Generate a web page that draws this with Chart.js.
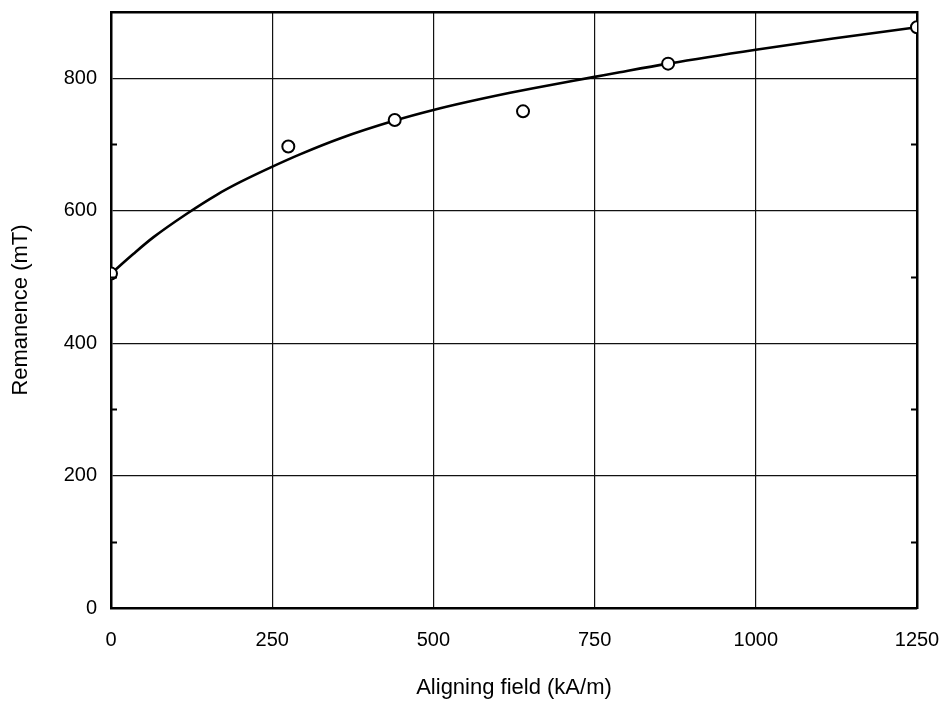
<!DOCTYPE html>
<html>
<head>
<meta charset="utf-8">
<script src="https://cdn.jsdelivr.net/npm/chart.js@4.4.0/dist/chart.umd.min.js"></script>
<style>
  html, body { margin: 0; padding: 0; background: #fff; }
  #wrap { width: 946px; height: 702px; }
</style>
</head>
<body>
<div id="wrap"><canvas id="grafica"></canvas></div>
<script>
// measured points (aligning field kA/m, remanence mT)
const measuredX = [0, 275, 440, 639, 864, 1250];
const measuredY = [505, 697, 737, 750, 822, 877];

// fitted curve
const curveX = [0, 35, 66, 117, 164, 200, 247, 293, 355, 440, 500, 552, 619, 655, 750, 789, 864, 1000, 1120, 1250];
const curveY = [505, 535, 560, 595, 624, 643, 665, 685, 709, 736, 752, 764, 778, 785, 802, 809, 822, 843, 860, 877];

const xTicks = [0, 250, 500, 750, 1000, 1250];
const yTicks = [0, 200, 400, 600, 800];
const yMinorTicks = [100, 300, 500, 700];

const fontFamily = "'Liberation Sans', Arial, Helvetica, sans-serif";

document.addEventListener("DOMContentLoaded", () => {
    const toXY = (xs, ys) => xs.map((x, i) => ({ x: x, y: ys[i] }));

    // no extra room for label overflow, layout padding decides the plot box
    const noOverflow = s => {
        s.paddingLeft = 0;
        s.paddingRight = 0;
        s.paddingTop = 0;
        s.paddingBottom = 0;
    };

    // small inward ticks on left and right frame
    const minorTickPlugin = {
        id: 'minorTicks',
        afterDatasetsDraw(chart) {
            const { ctx, chartArea } = chart;
            const yScale = chart.scales.y;
            ctx.save();
            ctx.strokeStyle = '#000';
            ctx.lineWidth = 2;
            yMinorTicks.forEach(v => {
                const py = Math.round(yScale.getPixelForValue(v)) + 0.5;
                ctx.beginPath();
                ctx.moveTo(chartArea.left, py);
                ctx.lineTo(chartArea.left + 6, py);
                ctx.moveTo(chartArea.right - 6, py);
                ctx.lineTo(chartArea.right, py);
                ctx.stroke();
            });
            ctx.restore();
        }
    };

    const ctx = document.getElementById('grafica').getContext('2d');
    new Chart(ctx, {
        type: 'line',
        data: {
            datasets: [{
                label: 'measured',
                type: 'scatter',
                data: toXY(measuredX, measuredY),
                pointStyle: 'circle',
                pointRadius: 6,
                pointBorderWidth: 2,
                pointBorderColor: '#000',
                pointBackgroundColor: '#fff',
                order: 0
            }, {
                label: 'fit',
                data: toXY(curveX, curveY),
                borderColor: '#000',
                borderWidth: 2.6,
                pointRadius: 0,
                cubicInterpolationMode: 'monotone',
                fill: false,
                order: 1
            }]
        },
        options: {
            responsive: true,
            maintainAspectRatio: false,
            animation: false,
            layout: { padding: { left: 0, right: 29, top: 12, bottom: 0 } },
            plugins: {
                legend: { display: false },
                tooltip: { enabled: false }
            },
            scales: {
                x: {
                    type: 'linear',
                    position: 'bottom',
                    min: 0,
                    max: 1250,
                    afterBuildTicks: s => { s.ticks = xTicks.map(v => ({ value: v })); },
                    afterFit: s => { s.height = 94; noOverflow(s); },
                    grid: { color: '#111', lineWidth: 1.2, drawTicks: false },
                    border: { color: '#000', width: 2.5 },
                    ticks: {
                        color: '#000',
                        padding: 20,
                        maxRotation: 0,
                        callback: v => String(v),
                        font: { family: fontFamily, size: 20 }
                    },
                    title: {
                        display: true,
                        text: 'Aligning field (kA/m)',
                        color: '#000',
                        padding: { top: 0, bottom: 1 },
                        font: { family: fontFamily, size: 22 }
                    }
                },
                y: {
                    type: 'linear',
                    position: 'left',
                    min: 0,
                    max: 900,
                    afterBuildTicks: s => { s.ticks = yTicks.map(v => ({ value: v })); },
                    afterFit: s => { s.width = 111; noOverflow(s); },
                    grid: { color: '#111', lineWidth: 1.2, drawTicks: false },
                    border: { color: '#000', width: 2.5 },
                    ticks: {
                        color: '#000',
                        padding: 14,
                        callback: v => String(v),
                        font: { family: fontFamily, size: 20 }
                    },
                    title: {
                        display: true,
                        text: 'Remanence (mT)',
                        color: '#000',
                        padding: { top: 8, bottom: 0 },
                        font: { family: fontFamily, size: 22 }
                    }
                },
                xTop: {
                    type: 'linear',
                    position: 'top',
                    min: 0,
                    max: 1250,
                    afterFit: s => { s.height = 0; noOverflow(s); },
                    grid: { display: false, drawTicks: false },
                    border: { color: '#000', width: 2.5 },
                    ticks: { display: false }
                },
                yRight: {
                    type: 'linear',
                    position: 'right',
                    min: 0,
                    max: 900,
                    afterFit: s => { s.width = 0; noOverflow(s); },
                    grid: { display: false, drawTicks: false },
                    border: { color: '#000', width: 2.5 },
                    ticks: { display: false }
                }
            }
        },
        plugins: [minorTickPlugin]
    });
});
</script>
</body>
</html>
